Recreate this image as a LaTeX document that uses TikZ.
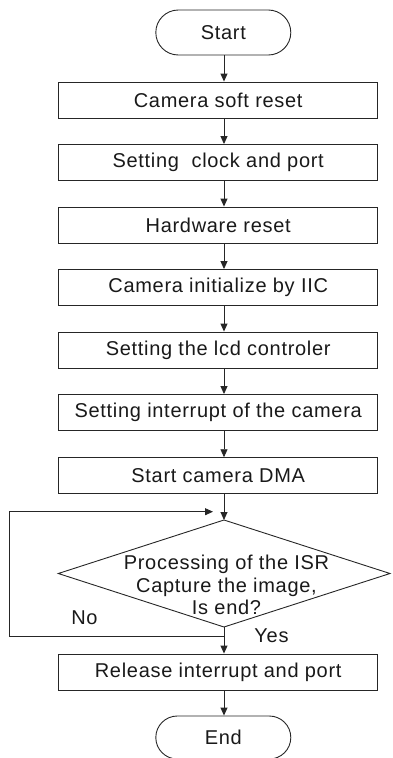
\documentclass[tikz,border=0pt]{standalone}
\usepackage{fontspec}
\setmainfont{Liberation Sans}[LetterSpace=3.5]
\usetikzlibrary{arrows.meta,shapes.misc,shapes.geometric}
\begin{document}
\begin{tikzpicture}[x=1pt,y=1pt,
  every node/.style={font=\fontsize{20}{22.7}\selectfont, text=black!90},
  line/.style={draw=black!85, line width=0.9pt},
  arr/.style={line, -{Triangle[length=8pt,width=7pt]}},
  procbox/.style={line, rectangle, minimum width=319pt, minimum height=36pt, inner sep=0pt},
  term/.style={line, rounded rectangle, minimum width=135pt, minimum height=45pt, inner sep=0pt},
  lbl/.style={inner sep=0pt}
]
\useasboundingbox (0,0) rectangle (392,-758);
\coordinate (spine) at (224,0);
\node[term] (start) at (223.3,-32.5) {Start};
\node[procbox] (b1) at (218.2,-100) {Camera soft reset};
\node[procbox] (b2) at (218.2,-162.5) {Setting~ clock and port};
\node[procbox] (b3) at (218.2,-225) {Hardware reset};
\node[procbox] (b4) at (218.2,-287.5) {Camera initialize by IIC};
\node[procbox] (b5) at (218.2,-350) {Setting the lcd controler};
\node[procbox] (b6) at (218.2,-412.5) {Setting interrupt of the camera};
\node[procbox] (b7) at (218.2,-475.7) {Start camera DMA};
\draw[line] (224,-520) coordinate (dtop) -- (390,-573.5) coordinate (dright) -- (224,-627) coordinate (dbot) -- (58.3,-573.5) coordinate (dleft) -- cycle;
\node[lbl, align=center] (dtext) at (226.5,-585) {Processing of the ISR\\Capture the image,\\Is end?};
\node[procbox] (b8) at (218.2,-672) {Release interrupt and port};
\node[term, minimum height=43pt] (end) at (223.3,-737.5) {End};
\node[lbl] (no) at (84.5,-618) {No};
\node[lbl] (yes) at (271.5,-636) {Yes};
\coordinate (j) at (224,-636);
\coordinate (l1) at (9,-636);
\coordinate (l2) at (9,-511.7);
\coordinate (l3) at (213,-511.7);
\draw[arr] (start.south -| spine) -- (b1.north -| spine);
\draw[arr] (b1.south -| spine) -- (b2.north -| spine);
\draw[arr] (b2.south -| spine) -- (b3.north -| spine);
\draw[arr] (b3.south -| spine) -- (b4.north -| spine);
\draw[arr] (b4.south -| spine) -- (b5.north -| spine);
\draw[arr] (b5.south -| spine) -- (b6.north -| spine);
\draw[arr] (b6.south -| spine) -- (b7.north -| spine);
\draw[arr] (b7.south -| spine) -- (dtop);
\draw[arr] (dbot) -- (b8.north -| spine);
\draw[arr] (j) -- (l1) -- (l2) -- (l3);
\draw[arr] (b8.south -| spine) -- (end.north -| spine);
\end{tikzpicture}
\end{document}
